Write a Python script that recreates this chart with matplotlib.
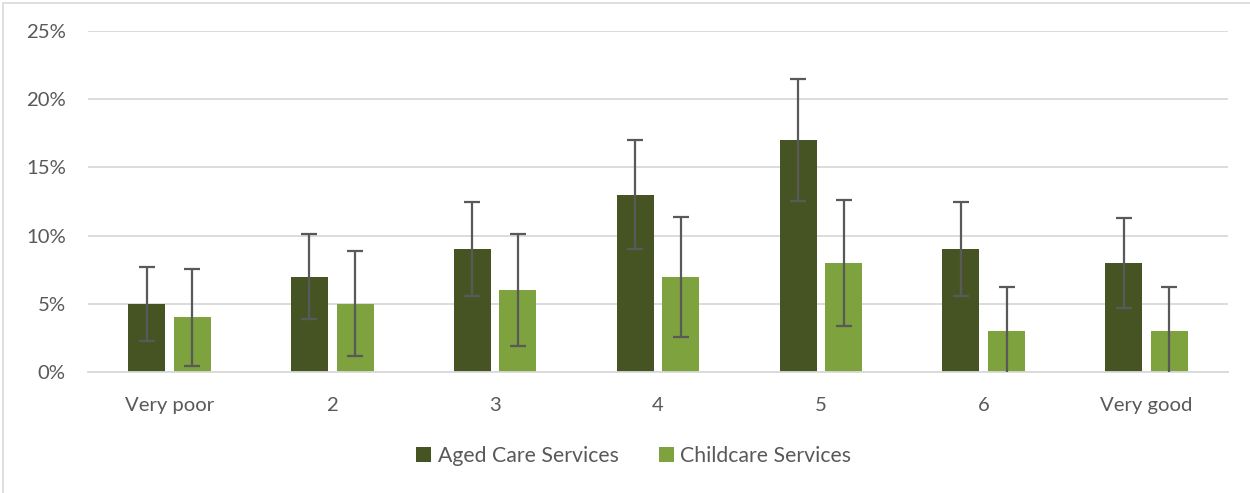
import matplotlib
matplotlib.use("Agg")
import matplotlib.pyplot as plt
import numpy as np
from matplotlib.patches import Rectangle

categories = ["Very poor", "2", "3", "4", "5", "6", "Very good"]
aged = [5, 7, 9, 13, 17, 9, 8]
aged_err = [2.7, 3.1, 3.45, 4.0, 4.45, 3.45, 3.3]
child = [4, 5, 6, 7, 8, 3, 3]
child_err = [3.55, 3.85, 4.1, 4.4, 4.6, 3.25, 3.25]
yticks = [0, 5, 10, 15, 20, 25]
ytick_labels = ["0%", "5%", "10%", "15%", "20%", "25%"]

plt.rcParams['font.family'] = ['Lato', 'DejaVu Sans']
text_col = "#595959"
grid_col = "#D9D9D9"
c_aged = "#465424"
c_child = "#7EA23E"

fig = plt.figure(figsize=(12.5, 4.93), dpi=100)
ax = fig.add_axes([0.0704, 0.2454, 0.912, 0.6917])

x = np.arange(len(categories))
w = 0.227
off = 0.14
ekw = dict(ecolor="#595959", elinewidth=1.6, capsize=6, capthick=1.6)
ax.bar(x - off, aged, w, color=c_aged, label="Aged Care Services", zorder=2)
ax.bar(x + off, child, w, color=c_child, label="Childcare Services", zorder=2)
ax.errorbar(x - off, aged, yerr=aged_err, fmt="none", zorder=3, **ekw)
ax.errorbar(x + off, child, yerr=child_err, fmt="none", zorder=3, **ekw)

ax.set_xlim(-0.5, len(categories) - 0.5)
ax.set_ylim(0, 25)
ax.set_yticks(yticks)
ax.set_yticklabels(ytick_labels)
ax.set_xticks(x)
ax.set_xticklabels(categories)
ax.tick_params(axis="both", length=0, labelsize=14.6, colors=text_col)
ax.tick_params(axis="y", pad=16)
ax.tick_params(axis="x", pad=18)
ax.yaxis.grid(True, color=grid_col, linewidth=1.3, zorder=0)
ax.set_axisbelow(True)
for s in ["top", "right", "left"]:
    ax.spines[s].set_visible(False)
ax.spines["bottom"].set_color(grid_col)
ax.spines["bottom"].set_linewidth(1.3)

leg = fig.legend(loc="center", bbox_to_anchor=(0.507, 0.075), ncol=2, frameon=False,
                 fontsize=15.3, handlelength=0.7, handleheight=0.7, handletextpad=0.3,
                 columnspacing=1.9)
for t in leg.get_texts():
    t.set_color(text_col)

fig.patches.append(Rectangle((3/1250, -0.1), 1.2, 1.1 - 3/493, transform=fig.transFigure,
                             fill=False, edgecolor="#D9D9D9", linewidth=1.2))

fig.savefig("out.png", dpi=100)
